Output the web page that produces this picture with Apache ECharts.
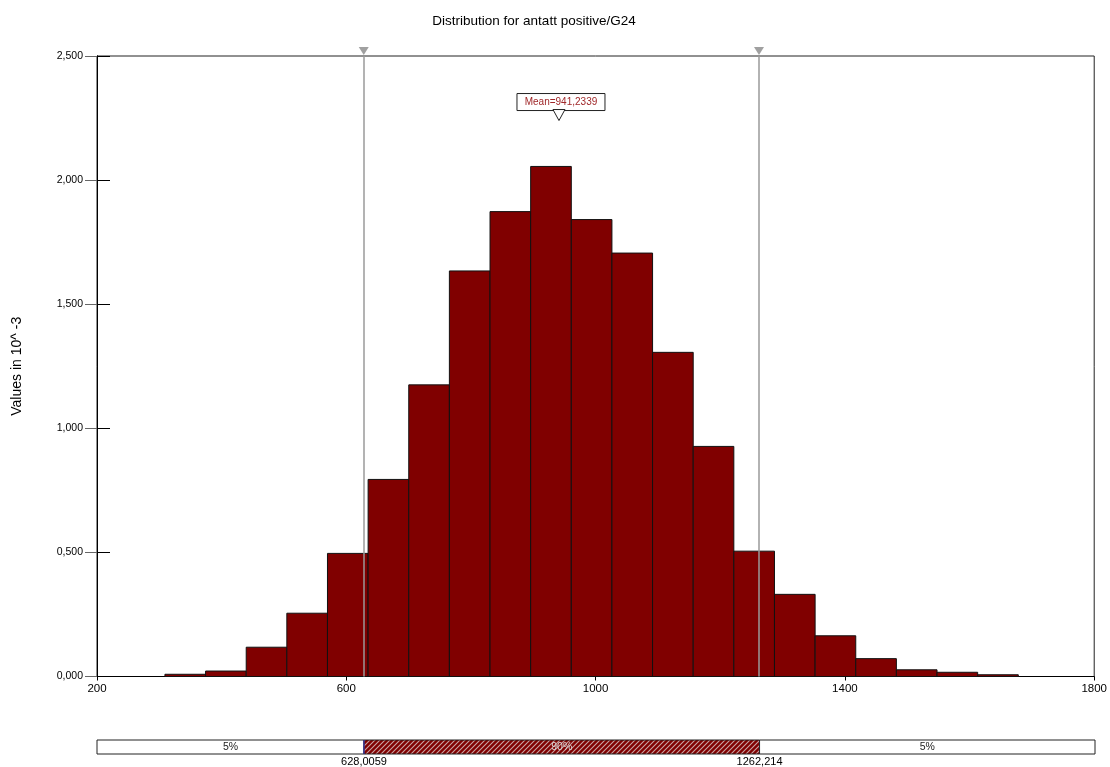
<!DOCTYPE html>
<html><head><meta charset="utf-8">
<script src="https://cdn.jsdelivr.net/npm/echarts@6/dist/echarts.min.js"></script>
<style>html,body{margin:0;padding:0;background:#fff}#c{width:1110px;height:767px}</style>
</head><body><div id="c"></div>
<script>
// ---- data ----
const binEdges = [309.0, 374.2, 439.4, 504.6, 569.8, 635.0, 700.2, 765.4, 830.6, 895.8, 961.0,
  1026.2, 1091.4, 1156.6, 1221.8, 1287.0, 1352.2, 1417.4, 1482.6, 1547.8, 1613.0, 1678.2];
const density = [0.009, 0.022, 0.118, 0.255, 0.496, 0.794, 1.175, 1.634, 1.873, 2.055, 1.841,
  1.706, 1.306, 0.927, 0.505, 0.331, 0.164, 0.072, 0.027, 0.017, 0.007];
const lowerP = 628.0059;
const upperP = 1262.214;
const percentileLabels = ['628,0059', '1262,214'];
const meanValue = 941.2339;
const meanLabelY = 2.24;
const meanLabel = 'Mean=941,2339';
const bandStarts = [200, 628.0059, 1262.214];
const bandEnds = [628.0059, 1262.214, 1800];
const bandLabels = ['5%', '90%', '5%'];
const titleText = 'Distribution for antatt positive/G24';
const yName = 'Values in 10^ -3';

// hatch pattern
function makeHatch() {
  const s = 5;
  const c = document.createElement('canvas');
  c.width = s; c.height = s;
  const g = c.getContext('2d');
  g.fillStyle = '#800000';
  g.fillRect(0, 0, s, s);
  g.strokeStyle = '#c8a4a4';
  g.lineWidth = 1.1;
  g.beginPath();
  g.moveTo(0, s); g.lineTo(s, 0);
  g.moveTo(-1, 1); g.lineTo(1, -1);
  g.moveTo(s - 1, s + 1); g.lineTo(s + 1, s - 1);
  g.stroke();
  return c;
}
const hatchPattern = { image: makeHatch(), repeat: 'repeat' };

const histData = density.map((d, i) => [binEdges[i], binEdges[i + 1], d]);
const bandData = bandStarts.map((s, i) => [s, bandEnds[i]]);

const chart = echarts.init(document.getElementById('c'), null, { renderer: 'canvas' });
const FONT = 'Liberation Sans, Arial, sans-serif';
chart.setOption({
  animation: false,
  backgroundColor: '#fff',
  textStyle: { fontFamily: FONT },
  title: {
    text: titleText, left: 529, top: 9, textAlign: 'center',
    textStyle: { fontSize: 13.5, fontWeight: 'normal', color: '#000', fontFamily: FONT }
  },
  grid: [
    { left: 97, right: 15, top: 56, bottom: 90.5, show: true, borderColor: '#222', borderWidth: 1, backgroundColor: 'transparent' },
    { left: 97, right: 15, top: 740, height: 14 }
  ],
  xAxis: [
    {
      type: 'value', gridIndex: 0, min: 200, max: 1800, interval: 400,
      axisLine: { show: true, lineStyle: { color: '#000', width: 1 } },
      axisTick: { show: true, inside: false, length: 4, lineStyle: { color: '#000' } },
      axisLabel: { fontSize: 11.5, color: '#000', margin: 6, fontFamily: FONT, formatter: v => String(v) },
      splitLine: { show: false }
    },
    { type: 'value', gridIndex: 1, min: 200, max: 1800, show: false }
  ],
  yAxis: [
    {
      type: 'value', gridIndex: 0, min: 0, max: 2.5, interval: 0.5, position: 'left',
      name: yName, nameLocation: 'middle', nameGap: 73,
      nameTextStyle: { fontSize: 14, color: '#000', fontFamily: FONT },
      axisLine: { show: true, lineStyle: { color: '#000', width: 1 } },
      axisTick: { show: true, inside: false, length: 12, lineStyle: { color: '#666' } },
      axisLabel: { fontSize: 10.5, color: '#000', margin: 14, fontFamily: FONT,
        formatter: v => v.toFixed(3).replace('.', ',') },
      splitLine: { show: false }
    },
    {
      type: 'value', gridIndex: 0, min: 0, max: 2.5, interval: 0.5, position: 'left',
      axisLine: { show: true, lineStyle: { color: '#000', width: 1 } },
      axisTick: { show: true, inside: true, length: 13, lineStyle: { color: '#000' } },
      axisLabel: { show: false },
      splitLine: { show: false }
    },
    { type: 'value', gridIndex: 1, min: 0, max: 1, show: false }
  ],
  series: [
    {
      type: 'custom', name: 'hist', xAxisIndex: 0, yAxisIndex: 0,
      data: histData,
      encode: { x: [0, 1], y: 2 },
      renderItem: function (params, api) {
        const a = api.coord([api.value(0), api.value(2)]);
        const b = api.coord([api.value(1), 0]);
        return {
          type: 'rect',
          shape: { x: a[0], y: a[1], width: b[0] - a[0], height: b[1] - a[1] },
          style: { fill: '#800000', stroke: '#111', lineWidth: 1 }
        };
      },
      markLine: {
        silent: true, symbol: 'none', animation: false,
        label: { show: false },
        lineStyle: { color: '#9a9a9a', width: 1.5, type: 'solid' },
        data: [{ xAxis: lowerP }, { xAxis: upperP }]
      },
      z: 2
    },
    {
      type: 'scatter', xAxisIndex: 0, yAxisIndex: 0, clip: false,
      data: [[lowerP, 2.5], [upperP, 2.5]],
      symbol: 'triangle', symbolRotate: 180, symbolSize: [10, 8], symbolOffset: [0, -5],
      itemStyle: { color: '#888' }, silent: true, z: 5
    },
    {
      type: 'custom', xAxisIndex: 0, yAxisIndex: 0, clip: false,
      data: [[meanValue, meanLabelY]],
      renderItem: function (params, api) {
        const p = api.coord([api.value(0), api.value(1)]);
        return {
          type: 'group',
          children: [
            { type: 'rect', shape: { x: p[0] - 42, y: p[1] - 27, width: 88, height: 17 },
              style: { fill: '#fff', stroke: '#222', lineWidth: 1 } },
            { type: 'polygon', shape: { points: [[p[0] - 6, p[1] - 11], [p[0] + 6, p[1] - 11], [p[0], p[1]]] },
              style: { fill: '#fff', stroke: '#222', lineWidth: 1 } },
            { type: 'text', style: { text: meanLabel, x: p[0] + 2, y: p[1] - 18.5, align: 'center', verticalAlign: 'middle',
              fill: '#a0282a', fontSize: 10, fontFamily: FONT } }
          ]
        };
      },
      z: 6
    },
    {
      type: 'custom', xAxisIndex: 1, yAxisIndex: 2, clip: false,
      data: bandData,
      renderItem: function (params, api) {
        const i = params.dataIndex;
        const a = api.coord([api.value(0), 1]);
        const b = api.coord([api.value(1), 0]);
        const mid = i === 1;
        const children = [
          { type: 'rect', shape: { x: a[0], y: a[1], width: b[0] - a[0], height: b[1] - a[1] },
            style: { fill: mid ? hatchPattern : '#fff', stroke: '#222', lineWidth: 1 } },
          { type: 'text', style: { text: bandLabels[i], x: (a[0] + b[0]) / 2, y: (a[1] + b[1]) / 2 + 0.5,
            align: 'center', verticalAlign: 'middle', fontSize: 10.5, fill: mid ? '#dcdcdc' : '#222', fontFamily: FONT } }
        ];
        if (mid) {
          children.push(
            { type: 'line', shape: { x1: a[0], y1: a[1], x2: a[0], y2: b[1] }, style: { stroke: '#3a3ab0', lineWidth: 1.2 } },
            { type: 'line', shape: { x1: b[0], y1: a[1], x2: b[0], y2: b[1] }, style: { stroke: '#7070c0', lineWidth: 1.2 } },
            { type: 'text', style: { text: percentileLabels[0], x: a[0], y: b[1] + 8, align: 'center', verticalAlign: 'middle',
              fontSize: 11, fill: '#000', fontFamily: FONT } },
            { type: 'text', style: { text: percentileLabels[1], x: b[0], y: b[1] + 8, align: 'center', verticalAlign: 'middle',
              fontSize: 11, fill: '#000', fontFamily: FONT } }
          );
        }
        return { type: 'group', children: children };
      }
    }
  ]
});
</script>
</body></html>
